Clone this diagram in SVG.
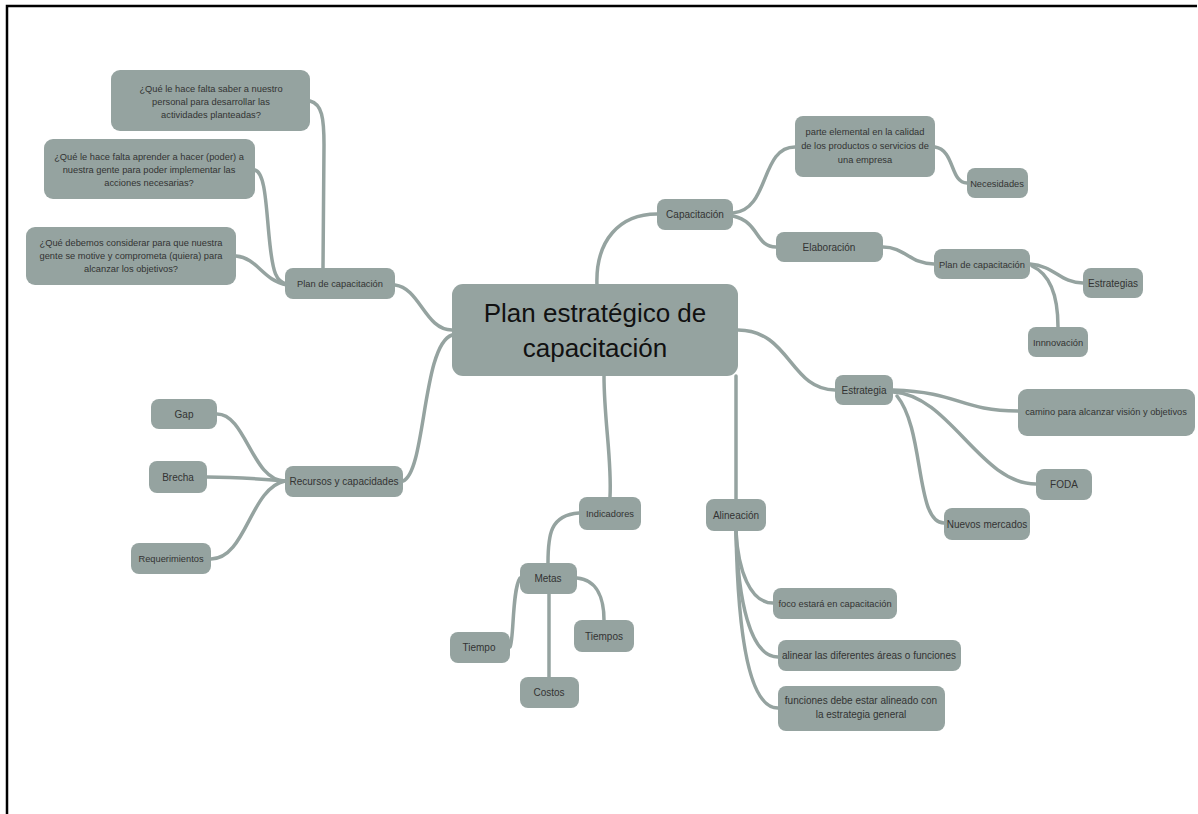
<svg xmlns="http://www.w3.org/2000/svg" width="1198" height="814" viewBox="0 0 1198 814">
<style>
.n{fill:#95a3a0;}
.e{fill:none;stroke:#95a3a0;stroke-width:3.5;stroke-linecap:round;}
.t{font-family:"Liberation Sans",sans-serif;font-size:10px;fill:#333;text-anchor:middle;}
.s{font-size:9.3px;}
.c{font-family:"Liberation Sans",sans-serif;font-size:26px;fill:#111;text-anchor:middle;}
</style>
<rect x="0" y="0" width="1198" height="814" fill="#fff"/>
<path d="M7,814 V6 H1197" fill="none" stroke="#000" stroke-width="2.5"/>
<g id="connectors">
<path class="e" d="M597,286 C595,240 620,214 657,214"/>
<path class="e" d="M733,213 C770,210 760,147 795,147"/>
<path class="e" d="M733,216 C760,222 755,247 776,247"/>
<path class="e" d="M935,147 C955,150 950,183 967,183"/>
<path class="e" d="M883,247 C905,247 910,264 934,264"/>
<path class="e" d="M1030,264 C1055,266 1060,283 1083,283"/>
<path class="e" d="M1032,266 C1052,275 1058,300 1058,327"/>
<path class="e" d="M738,330 C790,330 790,390 835,390"/>
<path class="e" d="M893,390 C960,392 960,411 1018,411"/>
<path class="e" d="M893,392 C950,395 980,484 1036,484"/>
<path class="e" d="M897,396 C925,430 915,523 944,523"/>
<path class="e" d="M736,376 L736,499"/>
<path class="e" d="M736,531 C738,570 750,603 773,603"/>
<path class="e" d="M736,531 C738,600 750,657 778,657"/>
<path class="e" d="M736,531 C738,640 750,708 778,708"/>
<path class="e" d="M604,376 C604,420 612,460 610,497"/>
<path class="e" d="M579,513 C550,515 548,535 548,563"/>
<path class="e" d="M577,578 C598,580 604,600 604,620"/>
<path class="e" d="M520,578 C512,590 514,640 510,647"/>
<path class="e" d="M549,594 L549,677"/>
<path class="e" d="M452,330 C425,330 420,288 395,285"/>
<path class="e" d="M310,101 C322,104 324,118 324,145 L323,268"/>
<path class="e" d="M255,170 C266,173 266,210 270,245 C273,272 276,282 287,284"/>
<path class="e" d="M236,256 C258,258 262,280 287,285"/>
<path class="e" d="M452,335 C422,345 426,472 403,481"/>
<path class="e" d="M285,481 C252,481 246,414 217,414"/>
<path class="e" d="M285,481 C250,478 232,477 207,477"/>
<path class="e" d="M285,481 C250,488 246,559 211,559"/>
</g>
<g id="central"><rect class="n" x="452" y="284" width="286" height="92" rx="11"/><text class="c" x="595" y="322">Plan estratégico de</text><text class="c" x="595" y="357">capacitación</text></g>
<g id="capacitacion"><rect class="n" x="657" y="199" width="76" height="31" rx="8"/><text class="t" x="695" y="218">Capacitación</text></g>
<g id="parte"><rect class="n" x="795" y="116" width="140" height="61" rx="8"/><text class="t s" x="865" y="135">parte elemental en la calidad</text><text class="t s" x="865" y="149">de los productos o servicios de</text><text class="t s" x="865" y="163">una empresa</text></g>
<g id="necesidades"><rect class="n" x="967" y="168" width="61" height="30" rx="8"/><text class="t s" x="997" y="187">Necesidades</text></g>
<g id="elaboracion"><rect class="n" x="776" y="232" width="107" height="30" rx="8"/><text class="t" x="829" y="251">Elaboración</text></g>
<g id="plan-der"><rect class="n" x="934" y="249" width="96" height="30" rx="8"/><text class="t s" x="982" y="268">Plan de capacitación</text></g>
<g id="estrategias"><rect class="n" x="1083" y="268" width="60" height="30" rx="8"/><text class="t" x="1113" y="287">Estrategias</text></g>
<g id="innovacion"><rect class="n" x="1028" y="327" width="60" height="30" rx="8"/><text class="t s" x="1058" y="346">Innnovación</text></g>
<g id="estrategia"><rect class="n" x="835" y="375" width="58" height="30" rx="8"/><text class="t" x="864" y="394">Estrategia</text></g>
<g id="camino"><rect class="n" x="1018" y="389" width="177" height="47" rx="9"/><text class="t s" x="1106" y="415">camino para alcanzar visión y objetivos</text></g>
<g id="foda"><rect class="n" x="1036" y="469" width="56" height="31" rx="8"/><text class="t" x="1064" y="488">FODA</text></g>
<g id="nuevos"><rect class="n" x="944" y="508" width="86" height="32" rx="8"/><text class="t" x="987" y="528">Nuevos mercados</text></g>
<g id="alineacion"><rect class="n" x="706" y="499" width="60" height="32" rx="8"/><text class="t" x="736" y="519">Alineación</text></g>
<g id="foco"><rect class="n" x="773" y="588" width="124" height="31" rx="8"/><text class="t s" x="835" y="607">foco estará en capacitación</text></g>
<g id="alinear"><rect class="n" x="778" y="640" width="183" height="31" rx="8"/><text class="t" x="869" y="659">alinear las diferentes áreas o funciones</text></g>
<g id="funciones"><rect class="n" x="778" y="686" width="167" height="45" rx="8"/><text class="t" x="861" y="704">funciones debe estar alineado con</text><text class="t" x="861" y="718">la estrategia general</text></g>
<g id="indicadores"><rect class="n" x="579" y="497" width="62" height="33" rx="8"/><text class="t s" x="610" y="517">Indicadores</text></g>
<g id="metas"><rect class="n" x="520" y="563" width="57" height="31" rx="8"/><text class="t" x="548" y="582">Metas</text></g>
<g id="tiempos"><rect class="n" x="574" y="620" width="60" height="32" rx="8"/><text class="t" x="604" y="640">Tiempos</text></g>
<g id="tiempo"><rect class="n" x="450" y="632" width="60" height="31" rx="8"/><text class="t" x="479" y="651">Tiempo</text></g>
<g id="costos"><rect class="n" x="520" y="677" width="59" height="31" rx="8"/><text class="t" x="549" y="696">Costos</text></g>
<g id="plan-izq"><rect class="n" x="285" y="268" width="110" height="31" rx="8"/><text class="t s" x="340" y="287">Plan de capacitación</text></g>
<g id="recursos"><rect class="n" x="285" y="466" width="118" height="31" rx="8"/><text class="t" x="344" y="485">Recursos y capacidades</text></g>
<g id="gap"><rect class="n" x="151" y="399" width="66" height="30" rx="8"/><text class="t" x="184" y="418">Gap</text></g>
<g id="brecha"><rect class="n" x="149" y="461" width="58" height="32" rx="8"/><text class="t" x="178" y="481">Brecha</text></g>
<g id="requerimientos"><rect class="n" x="131" y="543" width="80" height="31" rx="8"/><text class="t s" x="171" y="562">Requerimientos</text></g>
<g id="q1"><rect class="n" x="111" y="70" width="199" height="61" rx="9"/><text class="t s" x="211" y="92">¿Qué le hace falta saber a nuestro</text><text class="t s" x="211" y="105">personal para desarrollar las</text><text class="t s" x="211" y="118">actividades planteadas?</text></g>
<g id="q2"><rect class="n" x="44" y="139" width="211" height="60" rx="9"/><text class="t s" x="149" y="160">¿Qué le hace falta aprender a hacer (poder) a</text><text class="t s" x="149" y="173">nuestra gente para poder implementar las</text><text class="t s" x="149" y="186">acciones necesarias?</text></g>
<g id="q3"><rect class="n" x="26" y="227" width="210" height="58" rx="9"/><text class="t s" x="131" y="246">¿Qué debemos considerar para que nuestra</text><text class="t s" x="131" y="259">gente se motive y comprometa (quiera) para</text><text class="t s" x="131" y="272">alcanzar los objetivos?</text></g>
</svg>
